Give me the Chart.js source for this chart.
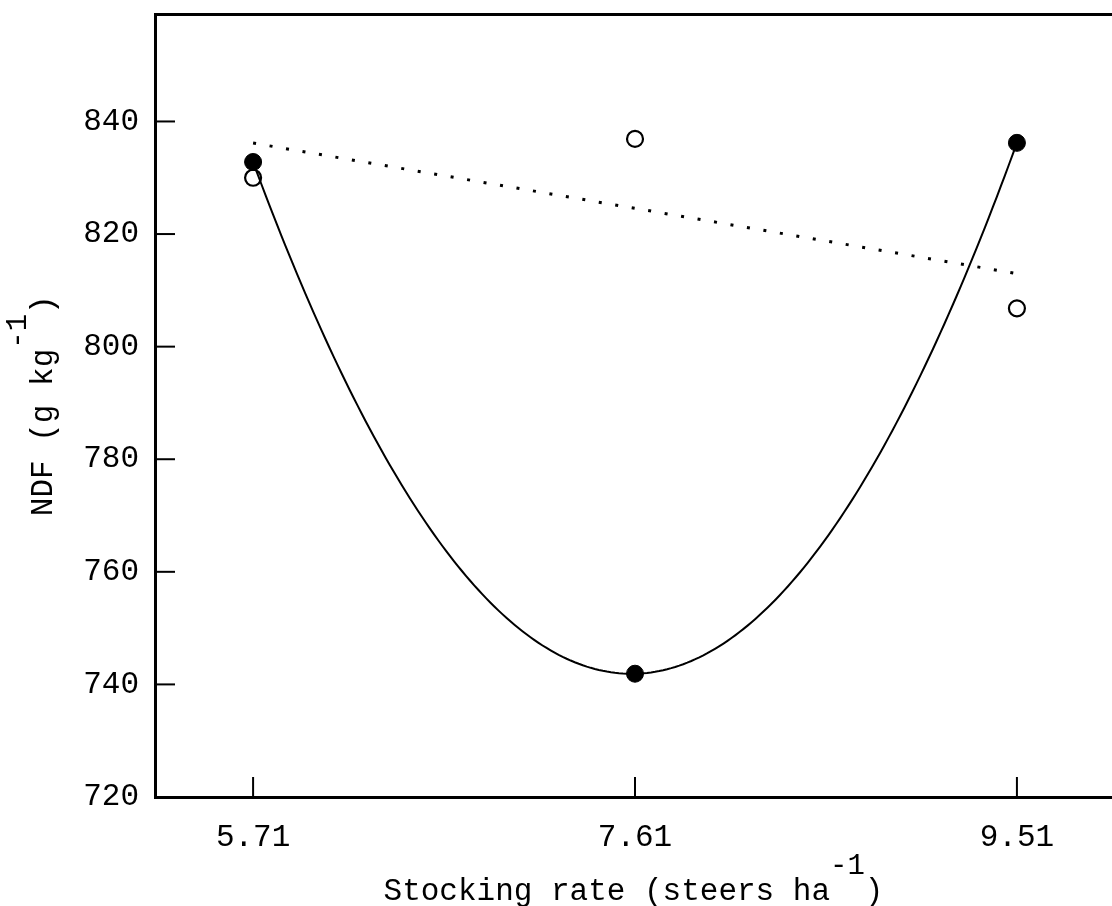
<!DOCTYPE html>
<html>
<head>
<meta charset="utf-8">
<script src="https://cdn.jsdelivr.net/npm/chart.js@4.4.0/dist/chart.umd.min.js"></script>
<style>
  html, body { margin: 0; padding: 0; background: #fff; }
  canvas { display: block; }
</style>
</head>
<body>
<canvas id="ndfChart" width="1112" height="906"></canvas>
<script>
// stocking rate (steers/ha) and NDF (g/kg)
const stockingRates = [5.71, 7.61, 9.51];
const ndfFilled = [832.8, 741.9, 836.2];
const ndfOpen = [830.0, 836.9, 806.8];
const xTicks = [5.71, 7.61, 9.51];
const yTicks = [720, 740, 760, 780, 800, 820, 840];

const FONT = '"Liberation Mono", "Courier New", monospace';
const FONT_SIZE = 31;

// quadratic through the filled points (Lagrange form)
function quadAt(x) {
  let y = 0;
  for (let i = 0; i < 3; i++) {
    let term = ndfFilled[i];
    for (let j = 0; j < 3; j++) {
      if (j !== i) term *= (x - stockingRates[j]) / (stockingRates[i] - stockingRates[j]);
    }
    y += term;
  }
  return y;
}
const curvePts = [];
for (let x = stockingRates[0]; x <= stockingRates[2] + 1e-9; x += 0.02) {
  curvePts.push({ x: x, y: quadAt(x) });
}

// least-squares line through the open points
const n = stockingRates.length;
const mx = stockingRates.reduce((a, b) => a + b, 0) / n;
const my = ndfOpen.reduce((a, b) => a + b, 0) / n;
let sxy = 0, sxx = 0;
for (let i = 0; i < n; i++) {
  sxy += (stockingRates[i] - mx) * (ndfOpen[i] - my);
  sxx += (stockingRates[i] - mx) ** 2;
}
const slope = sxy / sxx;
const linePts = [stockingRates[0], stockingRates[2]].map(x => ({ x: x, y: my + slope * (x - mx) }));

const toXY = (xs, ys) => xs.map((x, i) => ({ x: x, y: ys[i] }));

// fixed box sizes, no label overflow padding
function fixBox(w, h) {
  return s => {
    if (w !== null) s.width = w;
    if (h !== null) s.height = h;
    s.paddingTop = s.paddingBottom = s.paddingLeft = s.paddingRight = 0;
  };
}

function drawTitle(ctx, main, sup, tail) {
  ctx.font = FONT_SIZE + 'px ' + FONT;
  const w1 = ctx.measureText(main).width;
  const w3 = ctx.measureText(tail).width;
  ctx.font = '29px ' + FONT;
  const w2 = ctx.measureText(sup).width;
  let x = -(w1 + w2 + w3) / 2;
  ctx.font = FONT_SIZE + 'px ' + FONT;
  ctx.fillText(main, x, 0);
  x += w1;
  ctx.font = '29px ' + FONT;
  ctx.fillText(sup, x, -26);
  x += w2;
  ctx.font = FONT_SIZE + 'px ' + FONT;
  ctx.fillText(tail, x, 0);
}

const frame = {
  id: 'frame',
  afterDraw(chart) {
    const { ctx, chartArea: a, scales } = chart;
    ctx.save();
    ctx.strokeStyle = '#000';
    ctx.lineWidth = 2;
    // inward tick marks
    yTicks.forEach(v => {
      const py = scales.y.getPixelForValue(v);
      ctx.beginPath();
      ctx.moveTo(a.left, py);
      ctx.lineTo(a.left + 20, py);
      ctx.stroke();
    });
    xTicks.forEach(v => {
      const px = scales.x.getPixelForValue(v);
      ctx.beginPath();
      ctx.moveTo(px, a.bottom);
      ctx.lineTo(px, a.bottom - 20);
      ctx.stroke();
    });
    // axis titles
    ctx.fillStyle = '#000';
    ctx.textAlign = 'left';
    ctx.textBaseline = 'alphabetic';
    ctx.save();
    ctx.translate((a.left + a.right) / 2, 900);
    drawTitle(ctx, 'Stocking rate (steers ha', '-1', ')');
    ctx.restore();
    ctx.save();
    ctx.translate(52, (a.top + a.bottom) / 2);
    ctx.rotate(-Math.PI / 2);
    drawTitle(ctx, 'NDF (g kg', '-1', ')');
    ctx.restore();
    ctx.restore();
  }
};

new Chart(document.getElementById('ndfChart'), {
  type: 'scatter',
  data: {
    datasets: [
      {
        data: toXY(stockingRates, ndfFilled),
        pointRadius: 8.5,
        pointBackgroundColor: '#000',
        pointBorderColor: '#000',
        pointBorderWidth: 1,
        showLine: false,
        order: 0
      },
      {
        data: curvePts,
        showLine: true,
        pointRadius: 0,
        borderColor: '#000',
        borderWidth: 2,
        order: 1
      },
      {
        data: toXY(stockingRates, ndfOpen),
        pointRadius: 8,
        pointBackgroundColor: '#fff',
        pointBorderColor: '#000',
        pointBorderWidth: 2.2,
        showLine: false,
        order: 2
      },
      {
        data: linePts,
        showLine: true,
        pointRadius: 0,
        borderColor: '#000',
        borderWidth: 3,
        borderDash: [3, 13.7],
        order: 3
      }
    ]
  },
  options: {
    responsive: false,
    animation: false,
    events: [],
    layout: { autoPadding: false, padding: { top: 14.5, right: 0, bottom: 0, left: 0 } },
    plugins: { legend: { display: false }, tooltip: { enabled: false } },
    scales: {
      x: {
        type: 'linear',
        min: 5.222,
        max: 9.983,
        afterBuildTicks: s => { s.ticks = xTicks.map(v => ({ value: v })); },
        afterFit: fixBox(null, 109),
        ticks: {
          color: '#000',
          font: { family: FONT, size: FONT_SIZE },
          padding: 22,
          maxRotation: 0,
          autoSkip: false,
          callback: v => v.toFixed(2)
        },
        grid: { display: false, drawTicks: false },
        border: { display: true, color: '#000', width: 3 }
      },
      x2: {
        type: 'linear',
        position: 'top',
        min: 5.222,
        max: 9.983,
        afterFit: fixBox(null, 0),
        ticks: { display: false },
        grid: { display: false, drawTicks: false },
        border: { display: true, color: '#000', width: 3 }
      },
      y: {
        min: 720,
        max: 859,
        afterBuildTicks: s => { s.ticks = yTicks.map(v => ({ value: v })); },
        afterFit: fixBox(155, null),
        ticks: {
          color: '#000',
          font: { family: FONT, size: FONT_SIZE },
          padding: 16,
          autoSkip: false,
          callback: v => String(v)
        },
        grid: { display: false, drawTicks: false },
        border: { display: true, color: '#000', width: 3 }
      }
    }
  },
  plugins: [frame]
});
</script>
</body>
</html>
